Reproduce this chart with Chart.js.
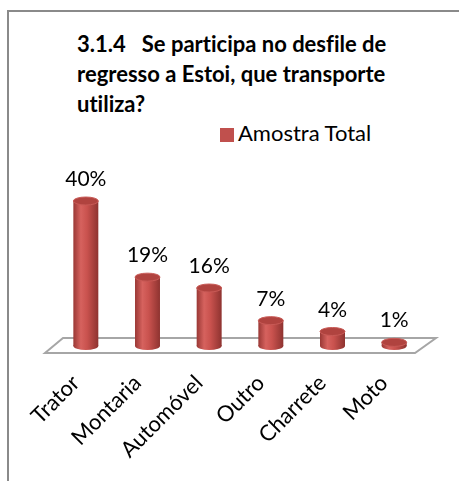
<!DOCTYPE html>
<html>
<head>
<meta charset="utf-8">
<script src="https://cdn.jsdelivr.net/npm/chart.js@4.4.0/dist/chart.umd.min.js"></script>
<style>
  html, body { margin:0; padding:0; background:#fff; overflow:hidden; }
  #wrap { position:relative; width:459px; height:481px; }
  #frame { position:absolute; left:7px; top:10px; width:480px; height:490px; border:2px solid #8a8a8a; box-sizing:border-box; }
  #title { position:absolute; left:77px; top:29px; font:bold 22px Lato; line-height:30px; color:#000; white-space:pre; font-variant-ligatures:none; }
  #legend { position:absolute; left:220px; top:119px; font:22px Lato; color:#000; white-space:nowrap; }
  #legend span.box { display:inline-block; width:14px; height:14px; background:#C0504D; margin-right:4px; vertical-align:-1px; }
  #chart { position:absolute; left:0; top:0; }
</style>
</head>
<body>
<div id="wrap">
  <div id="frame"></div>
  <div id="title">3.1.4   Se participa no desfile de
regresso a Estoi, que transporte
utiliza?</div>
  <div id="legend"><span class="box"></span>Amostra Total</div>
  <canvas id="chart" width="459" height="481"></canvas>
</div>
<script>
// dados do gráfico
const categorias = ['Trator', 'Montaria', 'Automóvel', 'Outro', 'Charrete', 'Moto'];
const valores = [40, 19, 16, 7, 4, 1];
const serieNome = 'Amostra Total';

// gradiente horizontal para dar aspecto de cilindro
function cylGradient(ctx, x, w){
  const g = ctx.createLinearGradient(x - w/2, 0, x + w/2, 0);
  g.addColorStop(0, '#9a3835');
  g.addColorStop(0.3, '#d6625e');
  g.addColorStop(0.55, '#c9524e');
  g.addColorStop(1, '#8e3330');
  return g;
}

// chão em perspectiva + tampas elípticas + rótulos
const cylinderPlugin = {
  id: 'cylinder',
  beforeDatasetsDraw(chart){
    const {ctx, chartArea: a} = chart;
    const y0 = chart.scales.y.getPixelForValue(0);
    ctx.save();
    ctx.beginPath();
    ctx.moveTo(a.left + 8, y0 - 8);
    ctx.lineTo(a.right + 11, y0 - 8);
    ctx.lineTo(a.right - 10, y0 + 7);
    ctx.lineTo(a.left - 10, y0 + 7);
    ctx.closePath();
    ctx.fillStyle = '#fff';
    ctx.fill();
    ctx.strokeStyle = '#a6a6a6';
    ctx.lineWidth = 2;
    ctx.stroke();
    // base arredondada dos cilindros
    chart.getDatasetMeta(0).data.forEach(el => {
      ctx.beginPath();
      ctx.ellipse(el.x, el.base, el.width/2, 4, 0, 0, Math.PI*2);
      ctx.fillStyle = cylGradient(ctx, el.x, el.width);
      ctx.fill();
    });
    ctx.restore();
  },
  afterDatasetsDraw(chart){
    const {ctx} = chart;
    const meta = chart.getDatasetMeta(0);
    ctx.save();
    meta.data.forEach((el, i) => {
      ctx.beginPath();
      ctx.ellipse(el.x, el.y, el.width/2, 4, 0, 0, Math.PI*2);
      ctx.fillStyle = '#b0433f';
      ctx.fill();
      ctx.strokeStyle = '#c85a56';
      ctx.lineWidth = 1;
      ctx.stroke();
      ctx.fillStyle = '#000';
      ctx.font = '21px Lato';
      ctx.textAlign = 'center';
      ctx.textBaseline = 'alphabetic';
      ctx.fillText(valores[i] + '%', el.x, el.y - 15);
    });
    ctx.restore();
  }
};

new Chart(document.getElementById('chart').getContext('2d'), {
  type: 'bar',
  data: {
    labels: categorias,
    datasets: [{
      label: serieNome,
      data: valores,
      backgroundColor: (c) => {
        const x = c.chart.scales.x ? c.chart.scales.x.getPixelForValue(c.dataIndex) : 0;
        return cylGradient(c.chart.ctx, x || 0, 25);
      },
      borderWidth: 0,
      barPercentage: 0.9,
      categoryPercentage: 0.45
    }]
  },
  options: {
    responsive: false,
    animation: false,
    layout: { padding: { top: 201, left: 55, right: 34, bottom: 0 } },
    plugins: { legend: { display: false }, tooltip: { enabled: false } },
    scales: {
      x: {
        grid: { display: false, drawTicks: false },
        border: { display: false },
        ticks: { color: '#000', font: { family: 'Lato', size: 22 }, minRotation: 45, maxRotation: 45, padding: 24, labelOffset: -10 },
        afterFit: (s) => { s.height = 135; }
      },
      y: { display: false, min: 0, max: 40 }
    }
  },
  plugins: [cylinderPlugin]
});
</script>
</body>
</html>
